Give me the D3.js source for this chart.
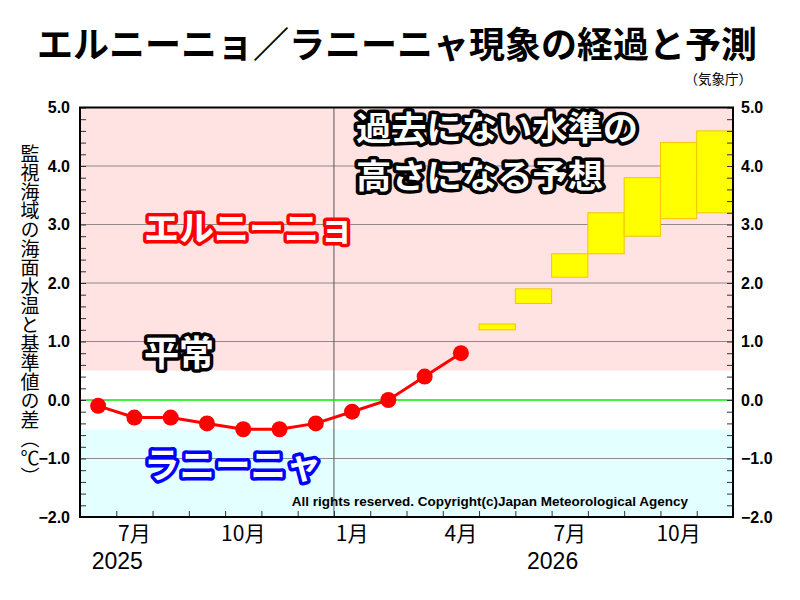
<!DOCTYPE html>
<html>
<head>
<meta charset="utf-8">
<script src="https://cdn.jsdelivr.net/npm/d3@7/dist/d3.min.js"></script>
<style>
  body { margin: 0; background: #fff; }
  svg text { font-family: "Noto Sans CJK JP", sans-serif; }
  .num { font-family: "Liberation Sans", Arial, sans-serif; font-weight: bold; font-size: 16px; }
</style>
</head>
<body>
<div id="chart"></div>
<script>
// months shown on the x axis (Jun 2025 .. Nov 2026)
const months = ["2025-06","2025-07","2025-08","2025-09","2025-10","2025-11","2025-12",
                "2026-01","2026-02","2026-03","2026-04","2026-05","2026-06","2026-07",
                "2026-08","2026-09","2026-10","2026-11"];
// observed values (Jun 2025 .. Apr 2026)
const obsMonths = months.slice(0, 11);
const obsValues = [-0.1, -0.3, -0.3, -0.4, -0.5, -0.5, -0.4, -0.2, 0.0, 0.4, 0.8];
// forecast ranges (May 2026 .. Nov 2026)
const fcMonths = months.slice(11);
const fcLow  = [1.2, 1.65, 2.1, 2.5, 2.8, 3.1, 3.2];
const fcHigh = [1.3, 1.9, 2.5, 3.2, 3.8, 4.4, 4.6];
// axis labels
const yTicks = [-2, -1, 0, 1, 2, 3, 4, 5];
const monthTickKeys = ["2025-07","2025-10","2026-01","2026-04","2026-07","2026-10"];
const monthTickLabels = ["7月","10月","1月","4月","7月","10月"];
const yearKeys = ["2025-07","2026-07"];
const yearLabels = ["2025","2026"];

const W = 800, H = 600;
const pLeft = 80, pRight = 733, pTop = 107.5, pBottom = 517;

const svg = d3.select("#chart").append("svg")
    .attr("width", W)
    .attr("height", H);

const x = d3.scaleBand().domain(months).range([pLeft, pRight]).padding(0);
const y = d3.scaleLinear().domain([-2, 5]).range([pBottom, pTop]);
const xc = k => x(k) + x.bandwidth() / 2;

// background bands
svg.append("rect").attr("x", pLeft).attr("width", pRight - pLeft)
    .attr("y", y(5)).attr("height", y(0.5) - y(5)).style("fill", "#ffe3e3");
svg.append("rect").attr("x", pLeft).attr("width", pRight - pLeft)
    .attr("y", y(0.5)).attr("height", y(-0.5) - y(0.5)).style("fill", "#ffffff");
svg.append("rect").attr("x", pLeft).attr("width", pRight - pLeft)
    .attr("y", y(-0.5)).attr("height", y(-2) - y(-0.5)).style("fill", "#e3ffff");

// grid lines
svg.selectAll(".grid")
    .data(yTicks.filter(d => d !== 0 && d !== 5 && d !== -2))
    .enter().append("line")
    .attr("x1", pLeft).attr("x2", pRight)
    .attr("y1", d => y(d)).attr("y2", d => y(d))
    .style("stroke", "#8c8c8c").style("stroke-width", 1.2);

// year boundary
svg.append("line")
    .attr("x1", x("2026-01")).attr("x2", x("2026-01"))
    .attr("y1", pTop).attr("y2", pBottom)
    .style("stroke", "#555").style("stroke-width", 1);

// zero line
svg.append("line")
    .attr("x1", pLeft).attr("x2", pRight)
    .attr("y1", y(0)).attr("y2", y(0))
    .style("stroke", "#00ee00").style("stroke-width", 1.5);

// annotations (white text with thick coloured outline)
function outlined(txt, px, py, size, stroke, len) {
    let t = svg.append("text")
        .attr("x", px).attr("y", py)
        .attr("dominant-baseline", "central")
        .style("font-size", size + "px")
        .style("font-weight", "bold")
        .style("fill", "#fff")
        .style("stroke", stroke)
        .style("stroke-width", 7)
        .style("stroke-linejoin", "round")
        .style("paint-order", "stroke")
        .text(txt);
    if (len) t.attr("textLength", len).attr("lengthAdjust", "spacingAndGlyphs");
}
outlined("エルニーニョ", 144, 225, 35, "#ff0000");
outlined("平常", 144, 350, 35, "#000");
outlined("ラニーニャ", 144, 462, 35.5, "#0000ff");
outlined("過去にない水準の", 356, 126, 33, "#000", 282);
outlined("高さになる予想", 356, 174, 33, "#000", 247);

// forecast boxes
const fc = fcMonths.map((m, i) => ({m: m, lo: fcLow[i], hi: fcHigh[i]}));
svg.selectAll(".fc")
    .data(fc)
    .enter().append("rect")
    .attr("x", d => x(d.m))
    .attr("width", x.bandwidth())
    .attr("y", d => y(d.hi))
    .attr("height", d => y(d.lo) - y(d.hi))
    .style("fill", "#ffff00")
    .style("stroke", "#f5c400")
    .style("stroke-width", 1);

// observed line + dots
const obs = obsMonths.map((m, i) => ({m: m, v: obsValues[i]}));
svg.append("path")
    .datum(obs)
    .attr("d", d3.line().x(d => xc(d.m)).y(d => y(d.v)))
    .style("fill", "none")
    .style("stroke", "#ff0000")
    .style("stroke-width", 3);
svg.selectAll(".dot")
    .data(obs)
    .enter().append("circle")
    .attr("cx", d => xc(d.m))
    .attr("cy", d => y(d.v))
    .attr("r", 8)
    .style("fill", "#ff0000");

// copyright
svg.append("text")
    .attr("x", 688).attr("y", 506)
    .attr("text-anchor", "end")
    .attr("class", "num")
    .style("font-size", "13.5px")
    .text("All rights reserved. Copyright(c)Japan Meteorological Agency");

// minor ticks (inward) on left, right and bottom
const minor = d3.range(-2, 5.001, 0.2);
svg.append("g")
    .attr("transform", "translate(" + pLeft + ",0)")
    .call(d3.axisRight(y).tickValues(minor).tickSize(6).tickFormat(""))
    .call(g => g.select(".domain").remove());
svg.append("g")
    .attr("transform", "translate(" + pRight + ",0)")
    .call(d3.axisLeft(y).tickValues(minor).tickSize(6).tickFormat(""))
    .call(g => g.select(".domain").remove());
svg.append("g")
    .attr("transform", "translate(0," + pBottom + ")")
    .call(d3.axisTop(d3.scaleLinear().domain([0, months.length]).range([pLeft, pRight]))
        .tickValues(d3.range(1, months.length)).tickSize(6).tickFormat(""))
    .call(g => g.select(".domain").remove());
svg.selectAll(".tick line").style("stroke", "#333");

// frame
svg.append("rect")
    .attr("x", pLeft).attr("y", pTop)
    .attr("width", pRight - pLeft).attr("height", pBottom - pTop)
    .style("fill", "none").style("stroke", "#000").style("stroke-width", 2);

// y labels
const fmt = d3.format(".1f");
const yl = svg.append("g")
    .attr("transform", "translate(" + pLeft + ",0)")
    .call(d3.axisLeft(y).tickValues(yTicks).tickSize(0).tickPadding(10).tickFormat(fmt));
yl.select(".domain").remove();
const yr = svg.append("g")
    .attr("transform", "translate(" + pRight + ",0)")
    .call(d3.axisRight(y).tickValues(yTicks).tickSize(0).tickPadding(8).tickFormat(fmt));
yr.select(".domain").remove();
svg.selectAll(".tick text").attr("class", "num").style("fill", "#000");

// month labels
svg.selectAll(".mlab")
    .data(monthTickKeys)
    .enter().append("text")
    .attr("x", d => xc(d))
    .attr("y", 541)
    .attr("text-anchor", "middle")
    .style("font-size", "21px")
    .text((d, i) => monthTickLabels[i]);
svg.selectAll(".ylab")
    .data(yearKeys)
    .enter().append("text")
    .attr("x", d => x(d) + 1)
    .attr("y", 569)
    .attr("text-anchor", "middle")
    .style("font-family", "'Liberation Sans', Arial, sans-serif")
    .style("font-size", "23px")
    .text((d, i) => yearLabels[i]);

// y axis title (vertical)
svg.append("text")
    .attr("x", 30).attr("y", 144)
    .style("writing-mode", "vertical-rl")
    .style("font-size", "19px")
    .text("監視海域の海面水温と基準値の差（℃）");

// title
svg.append("text")
    .attr("x", 397).attr("y", 57.5)
    .attr("text-anchor", "middle")
    .style("font-size", "36px")
    .style("font-weight", "bold")
    .text("エルニーニョ／ラニーニャ現象の経過と予測");
svg.append("text")
    .attr("x", 752).attr("y", 84)
    .attr("text-anchor", "end")
    .style("font-size", "13.5px")
    .text("（気象庁）");
</script>
</body>
</html>
